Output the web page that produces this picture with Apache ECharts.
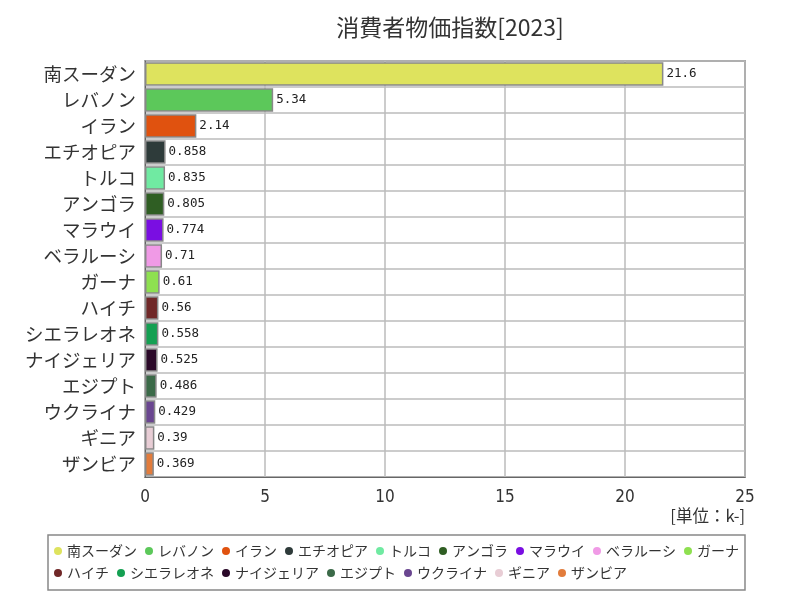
<!DOCTYPE html>
<html><head><meta charset="utf-8">
<script src="https://cdn.jsdelivr.net/npm/echarts@6/dist/echarts.min.js"></script>
<style>html,body{margin:0;padding:0;background:#fff}#c{width:800px;height:600px}</style>
</head><body><div id="c"></div>
<script>
const categories = ['南スーダン','レバノン','イラン','エチオピア','トルコ','アンゴラ','マラウイ','ベラルーシ','ガーナ','ハイチ','シエラレオネ','ナイジェリア','エジプト','ウクライナ','ギニア','ザンビア'];
const values = [21.6, 5.34, 2.14, 0.858, 0.835, 0.805, 0.774, 0.71, 0.61, 0.56, 0.558, 0.525, 0.486, 0.429, 0.39, 0.369];
const colors = ['#dee35e','#5cc85a','#e0520f','#2e3b3a','#70eaa2','#2f5e23','#7a0ee2','#f09ae6','#8ee050','#702828','#14a052','#2a0828','#3b6a48','#6a4690','#e8cdd5','#e27c3c'];
const xTicks = {min: 0, max: 25, interval: 5};
const unitText = '[単位：k-]';
const titleText = '消費者物価指数[2023]';

const series = categories.map((name, i) => ({
  name: name,
  type: 'bar',
  stack: 'all',
  barCategoryGap: '10%',
  data: categories.map((c, j) => j === i ? values[i] : '-'),
  itemStyle: {color: colors[i], borderColor: '#888', borderWidth: 1.5},
  label: {show: true, position: 'right', formatter: p => String(values[i]), fontFamily: 'DejaVu Sans Mono', fontSize: 12.5, color: '#222', distance: 3},
  emphasis: {disabled: true}
}));

const chart = echarts.init(document.getElementById('c'));
chart.setOption({
  animation: false,
  title: {text: titleText, left: 445, textAlign: 'center', top: 11, textStyle: {fontSize: 23, fontWeight: 'normal', color: '#333', fontFamily: 'Noto Sans CJK JP'}},
  grid: {left: 145, right: 55, top: 61, bottom: 123, show: true, borderColor: '#666', borderWidth: 1.5, backgroundColor: '#fff'},
  xAxis: {type: 'value', min: xTicks.min, max: xTicks.max, interval: xTicks.interval,
    axisLine: {show: true, lineStyle: {color: '#666'}}, axisTick: {show: false},
    axisLabel: {fontSize: 17, color: '#333', margin: 12, fontFamily: 'Liberation Sans Narrow, DejaVu Sans Condensed, sans-serif'},
    splitLine: {lineStyle: {color: '#bbb', width: 1.5}}},
  yAxis: {type: 'category', data: categories, inverse: true,
    axisLine: {show: true, lineStyle: {color: '#666'}}, axisTick: {show: false},
    axisLabel: {fontSize: 18.5, color: '#333', margin: 9, fontFamily: 'Noto Sans CJK JP'},
    splitLine: {show: true, lineStyle: {color: '#bbb', width: 1.5}}},
  legend: {left: 48, top: 535, width: 704, padding: [9, 6, 10, 6], itemGap: 8,
    borderColor: '#888', borderWidth: 1.5, icon: 'circle', itemWidth: 8, itemHeight: 8,
    itemStyle: {borderWidth: 0},
    textStyle: {fontSize: 14, color: '#333', fontFamily: 'Noto Sans CJK JP'}, data: categories},
  graphic: [{type: 'text', right: 55, top: 507, style: {text: unitText, fontSize: 16.5, fill: '#333', fontFamily: 'Noto Sans CJK JP'}}],
  series: series
});
</script></body></html>
